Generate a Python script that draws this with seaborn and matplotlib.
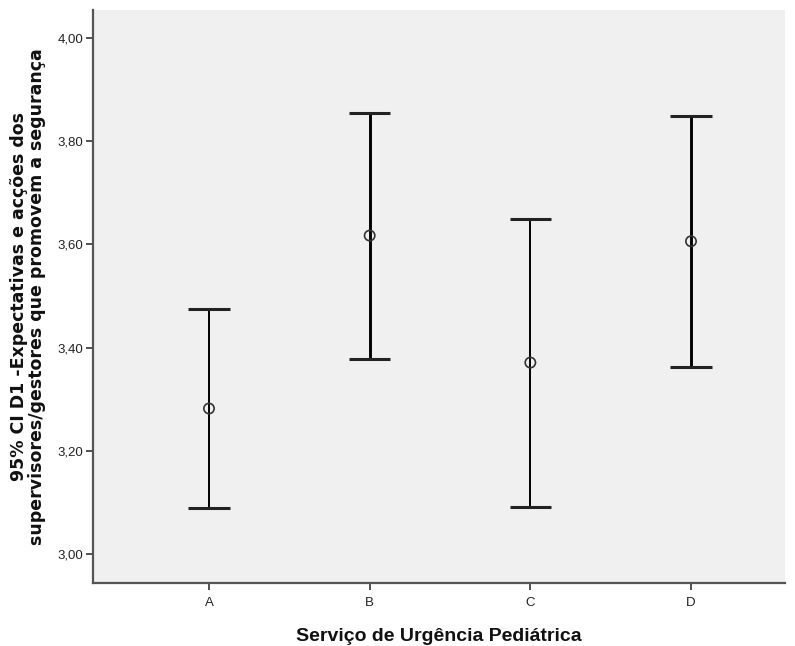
import matplotlib
matplotlib.use("Agg")
import matplotlib.pyplot as plt
from matplotlib.ticker import FuncFormatter
import seaborn as sns
import pandas as pd

# Data
categories = ["A", "B", "C", "D"]
means = [3.282, 3.617, 3.371, 3.606]
ci_lower = [3.090, 3.378, 3.091, 3.363]
ci_upper = [3.474, 3.855, 3.650, 3.848]
yticks = [3.00, 3.20, 3.40, 3.60, 3.80, 4.00]

df = pd.DataFrame({"grupo": categories, "media": means, "lo": ci_lower, "hi": ci_upper})
df["x"] = range(len(df))

sns.set_theme(style="white")
plt.rcParams["font.family"] = ["Liberation Sans", "DejaVu Sans"]

fig = plt.figure(figsize=(7.95, 6.46), dpi=100)
ax = fig.add_axes([93/795, 1-583/646, (785-93)/795, (583-10)/646])
ax.set_facecolor("#f0f0f0")

line_w = [1.4, 2.1, 1.4, 2.1]
for i, row in df.iterrows():
    ax.vlines(row["x"], row["lo"], row["hi"], color="black", lw=line_w[i], zorder=2)
    ax.hlines([row["lo"], row["hi"]], row["x"] - 0.128, row["x"] + 0.128,
              color="#222222", lw=2.2, zorder=2)

sns.scatterplot(data=df, x="x", y="media", ax=ax, marker="o", s=55,
                facecolors="none", edgecolor="#333333", linewidth=1.2, zorder=3)

ax.set_xlim(-0.722, 3.585)
ax.set_ylim(2.944, 4.054)
ax.set_xticks(df["x"])
ax.set_xticklabels(categories, fontsize=9.5, color="#222222")
ax.set_yticks(yticks)
ax.yaxis.set_major_formatter(FuncFormatter(lambda v, p: f"{v:.2f}".replace(".", ",")))
ax.tick_params(axis="y", labelsize=9.5, labelcolor="#222222", length=5, width=1.2,
               color="#333333", left=True, pad=2)
ax.tick_params(axis="x", length=5, width=1.2, color="#333333", bottom=True, pad=5)

for s in ["top", "right"]:
    ax.spines[s].set_visible(False)
for s in ["left", "bottom"]:
    ax.spines[s].set_color("#555555")
    ax.spines[s].set_linewidth(1.6)

ax.set_xlabel("Serviço de Urgência Pediátrica", fontsize=14, fontweight="bold",
              family=["Liberation Sans", "DejaVu Sans"],
              color="#111111", labelpad=14)
ax.set_ylabel("95% CI D1 -Expectativas e acções dos\nsupervisores/gestores que promovem a segurança",
              fontsize=12.5, fontweight="bold", family=["DejaVu Sans"], color="#111111",
              labelpad=8, linespacing=1.0)

fig.savefig("out.png", dpi=100, facecolor="white")
